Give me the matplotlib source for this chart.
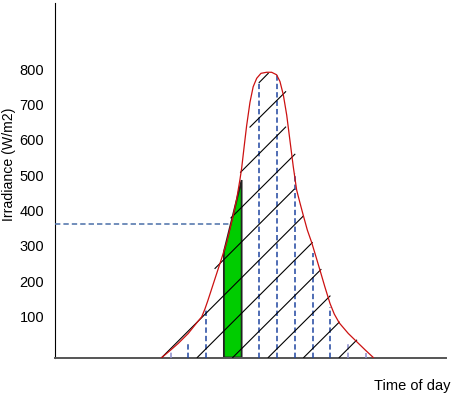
import matplotlib
matplotlib.use('Agg')
import matplotlib.pyplot as plt
import numpy as np

# Irradiance curve (hour of day, W/m2)
hours = [6.0, 6.5, 6.93, 7.49, 7.97, 8.25, 8.43, 8.59, 8.72, 8.96, 9.2, 9.37,
         9.66, 10.03, 10.22, 10.41, 10.5, 10.65, 10.78, 10.97, 11.15, 11.35,
         11.59, 11.91, 12.19, 12.47, 12.66, 12.85, 13.04, 13.22, 13.41, 13.6,
         13.8, 13.97, 14.2, 14.45, 14.69, 14.91, 15.19, 15.48, 15.72, 16.0,
         16.51, 16.98, 17.45, 17.92]
irradiance = [0, 21, 40, 68, 98, 115, 137, 160, 180, 217, 254, 280,
              326, 403, 448, 505, 535, 600, 655, 722, 766, 790,
              804, 807, 807, 800, 781, 743, 686, 615, 540, 474,
              435, 403, 361, 325, 285, 248, 200, 153, 123, 98,
              68, 45, 22, 0]

# Strip boundaries (dashed verticals) and how high each one is drawn
strip_hours = [6.5, 7.5, 8.5, 11.5, 12.5, 13.5, 14.5, 15.5, 16.5, 17.5]
strip_tops = [21, 40, 139, 781, 800, 521, 295, 144, 40, 14]

# Highlighted trapezoid
green_hours = [9.5, 10.5]
green_tops = [299, 502]

# Mean level of the trapezoid
mean_level = 377
mean_end = 9.9

# Hatch lines: start and end points (hour, W/m2)
hatch_start = [(6.0, 0), (8.0, 0), (10.0, 0), (12.0, 0), (14.0, 0), (16.0, 0),
               (9.0, 252), (9.9, 395), (10.44, 524), (10.97, 652), (11.49, 778)]
hatch_end = [(13.97, 400), (14.48, 325), (14.97, 249), (15.48, 174), (16.0, 100),
             (16.98, 49), (13.46, 476), (13.5, 575), (12.98, 652), (12.98, 752),
             (12.0, 804)]

yticks = [100, 200, 300, 400, 500, 600, 700, 800]

plt.rcParams['font.family'] = ['Liberation Sans', 'DejaVu Sans']

fig = plt.figure(figsize=(4.56, 3.99), dpi=100)
ax = fig.add_axes([55.3 / 456, 41.5 / 399, 390.4 / 456, 354.5 / 399])

# hatch
for (x0, y0), (x1, y1) in zip(hatch_start, hatch_end):
    ax.plot([x0, x1], [y0, y1], color='black', lw=0.8, zorder=4)

# dashed strip boundaries
dash_colors = ['#8a8ccc' if t in (21, 14) or h == 16.5 else '#1f45a0'
               for h, t in zip(strip_hours, strip_tops)]
ax.vlines(strip_hours, 0, strip_tops, colors=dash_colors, lw=1.1,
          linestyles=(0, (3.5, 2)), zorder=3)

# green trapezoid
ax.fill([green_hours[0], green_hours[0], green_hours[1], green_hours[1]],
        [0, green_tops[0], green_tops[1], 0],
        facecolor='#00cc00', edgecolor='#222222', lw=1.3, zorder=2)

ax.hlines(mean_level, 0, mean_end, colors='#4a6fa8', lw=1.1,
          linestyles=(0, (3.5, 2)), zorder=3)

ax.plot(hours, irradiance, color='#cc1111', lw=0.9, zorder=5)

ax.set_xlim(0, 22)
ax.set_ylim(0, 1003)
ax.set_xticks([])
ax.set_yticks(yticks)
ax.set_yticklabels([str(v) for v in yticks])
ax.tick_params(axis='y', length=0, pad=7.9, labelsize=10.5)
plt.setp(ax.get_yticklabels(), va='baseline')

for side in ['top', 'right']:
    ax.spines[side].set_visible(False)
ax.spines['left'].set_color('black')
ax.spines['left'].set_linewidth(0.8)
ax.spines['bottom'].set_color('#555555')
ax.spines['bottom'].set_linewidth(1.4)

ax.set_ylabel('Irradiance (W/m2)', fontsize=10.2)
ax.yaxis.set_label_coords(-0.101, 0.546)
ax.set_xlabel('Time of day', fontsize=10.5, loc='right')
ax.xaxis.set_label_coords(1.013, -0.06)

fig.savefig('out.png', dpi=100)
